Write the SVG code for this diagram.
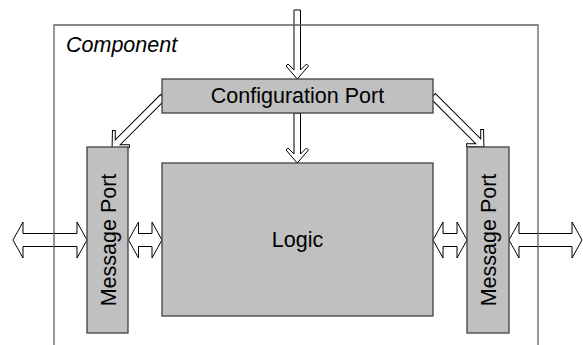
<svg xmlns="http://www.w3.org/2000/svg" width="583" height="345" viewBox="0 0 583 345">
  <defs>
    <style>
      .arrow { fill: #ffffff; stroke: #000000; stroke-width: 1; stroke-linejoin: miter; }
      .block { fill: #c0c0c0; stroke: #404040; stroke-width: 1.3; }
      .frame { fill: none; stroke: #606060; stroke-width: 1.3; }
      .label { font-family: "Liberation Sans", Arial, sans-serif; font-size: 21.5px; fill: #000000; }
    </style>
    <!-- chevron-headed arrow pointing along +x, tail at 0 -->
    <polygon id="diag" points="0,-3.5 64,-3.5 57.5,-10 59.5,-12 72,0 59.5,12 57.5,10 64,3.5 0,3.5"/>
  </defs>

  <rect width="583" height="345" fill="#ffffff"/>

  <!-- connectors -->
  <g id="connectors">
    <!-- into configuration port from above -->
    <polygon class="arrow" points="294,10 300.5,10 300.5,70 306.5,64 308.5,66 297.25,79 286,66 288,64 294,70"/>
    <!-- configuration port to logic -->
    <polygon class="arrow" points="294,113 300.5,113 300.5,154 306.5,148 308.5,150 297.25,163 286,150 288,148 294,154"/>
    <!-- configuration port to message ports -->
    <use href="#diag" class="arrow" transform="translate(163,97) rotate(135)"/>
    <use href="#diag" class="arrow" transform="translate(433,96) rotate(45)"/>
    <!-- outer message links -->
    <polygon class="arrow" points="13,240 23,222 23,233.5 77,233.5 77,222 87,240 77,258 77,246.5 23,246.5 23,258"/>
    <polygon class="arrow" points="509,240 519,222 519,233.5 572,233.5 572,222 582,240 572,258 572,246.5 519,246.5 519,258"/>
    <!-- message port to logic links -->
    <polygon class="arrow" points="128.5,240 138.5,222 138.5,233.5 152,233.5 152,222 162,240 152,258 152,246.5 138.5,246.5 138.5,258"/>
    <polygon class="arrow" points="433,240 443,222 443,233.5 457,233.5 457,222 467,240 457,258 457,246.5 443,246.5 443,258"/>
  </g>

  <!-- component boundary -->
  <g id="component">
    <path class="frame" d="M54,350 V25 H538 V350"/>
    <text class="label" x="66" y="52" font-style="italic">Component</text>
  </g>

  <g id="config-port">
    <rect class="block" x="162" y="79" width="271" height="34"/>
    <text class="label" x="297.5" y="103" text-anchor="middle">Configuration Port</text>
  </g>

  <g id="logic">
    <rect class="block" x="162" y="163" width="271" height="153"/>
    <text class="label" x="297.5" y="247" text-anchor="middle">Logic</text>
  </g>

  <g id="message-port-left">
    <rect class="block" x="87" y="147" width="41" height="186"/>
    <text class="label" transform="translate(115.5,240) rotate(-90)" text-anchor="middle">Message Port</text>
  </g>

  <g id="message-port-right">
    <rect class="block" x="467" y="147" width="42" height="186"/>
    <text class="label" transform="translate(496,240) rotate(-90)" text-anchor="middle">Message Port</text>
  </g>
</svg>
